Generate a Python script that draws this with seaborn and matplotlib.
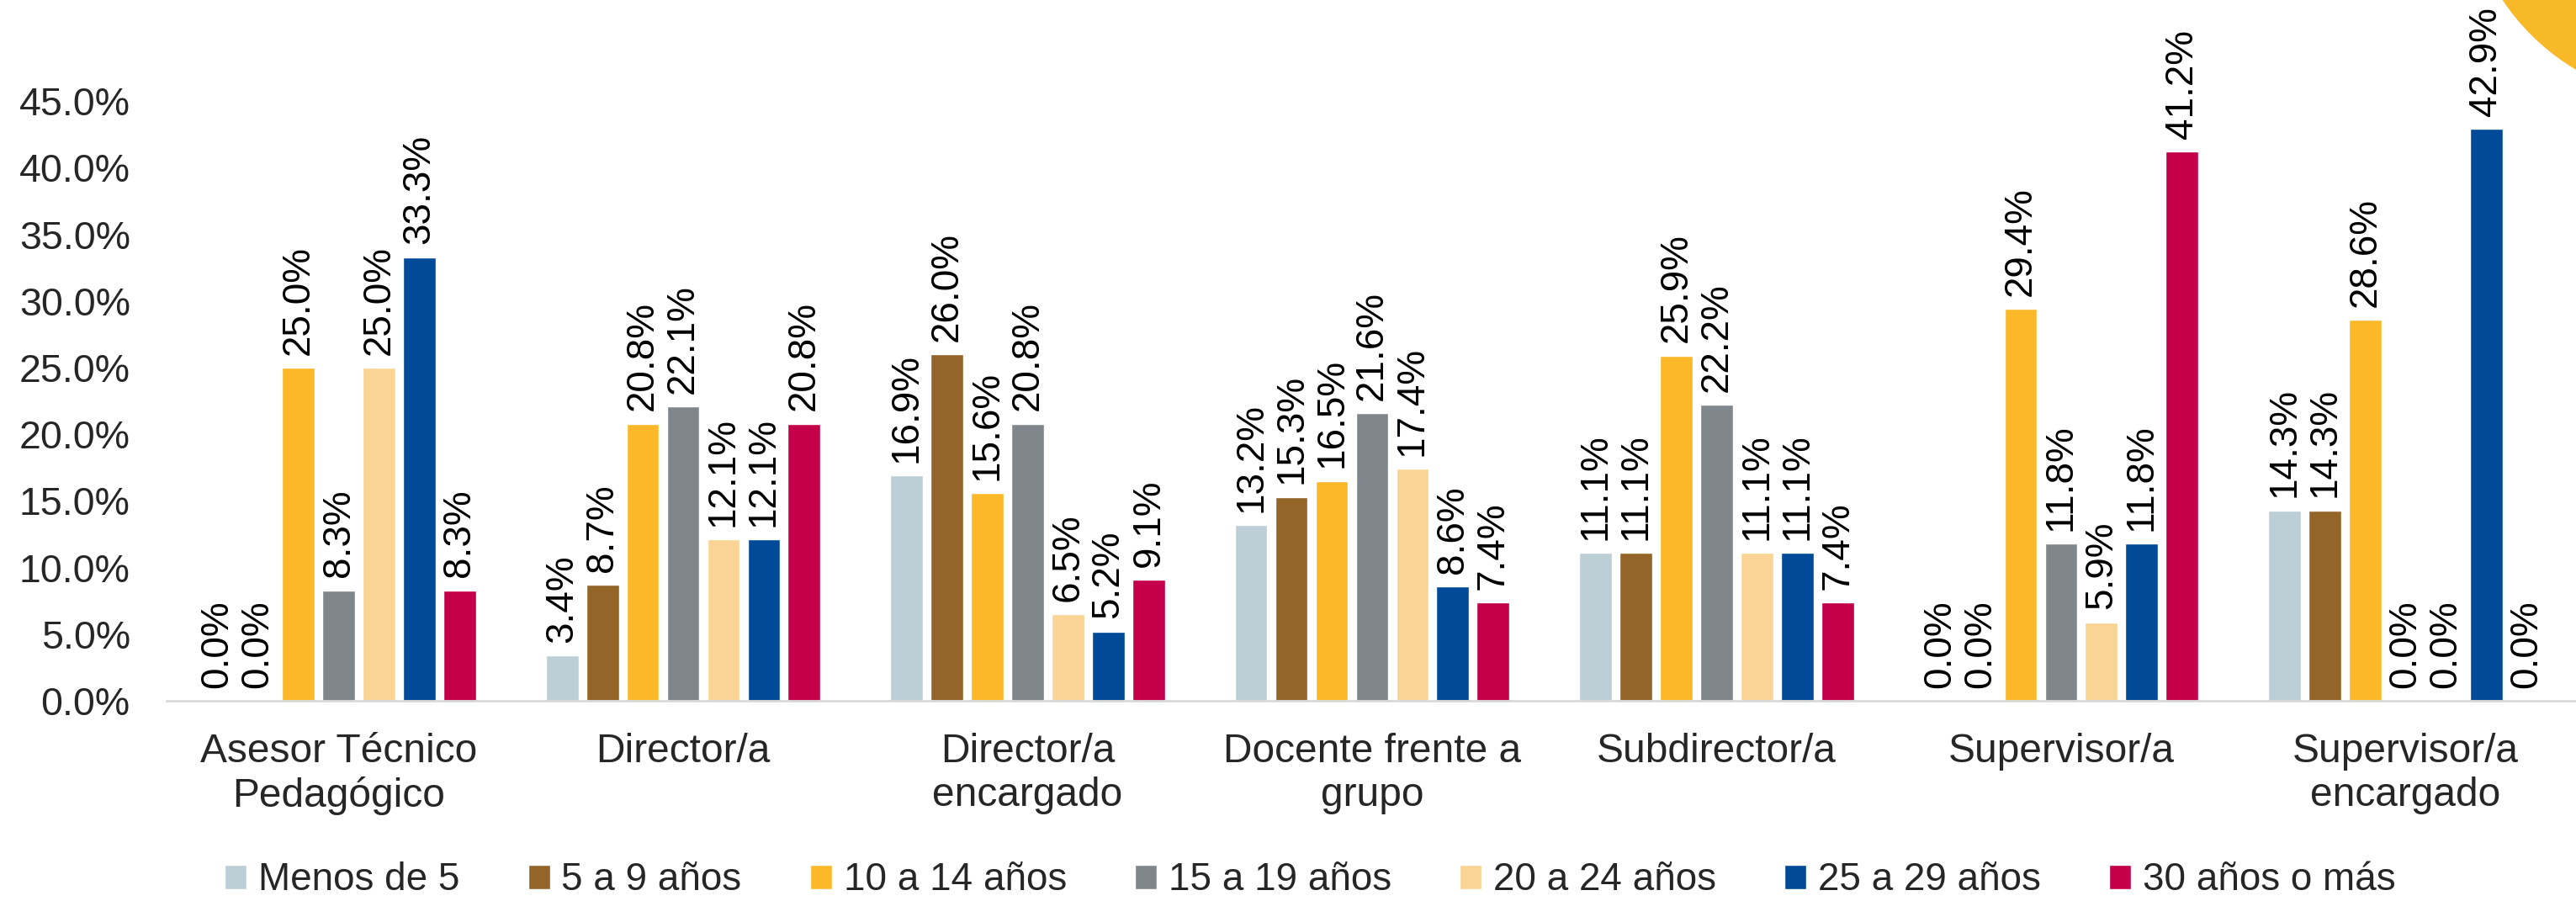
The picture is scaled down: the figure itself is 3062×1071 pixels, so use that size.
import matplotlib
matplotlib.use("Agg")
import matplotlib.pyplot as plt
import matplotlib.patches as mpatches
import seaborn as sns
import pandas as pd

categories = ["Asesor Técnico\nPedagógico", "Director/a", "Director/a\nencargado",
              "Docente frente a\ngrupo", "Subdirector/a", "Supervisor/a",
              "Supervisor/a\nencargado"]
series_names = ["Menos de 5", "5 a 9 años", "10 a 14 años", "15 a 19 años",
                "20 a 24 años", "25 a 29 años", "30 años o más"]
menos_5 = [0.0, 3.4, 16.9, 13.2, 11.1, 0.0, 14.3]
a5_9 = [0.0, 8.7, 26.0, 15.3, 11.1, 0.0, 14.3]
a10_14 = [25.0, 20.8, 15.6, 16.5, 25.9, 29.4, 28.6]
a15_19 = [8.3, 22.1, 20.8, 21.6, 22.2, 11.8, 0.0]
a20_24 = [25.0, 12.1, 6.5, 17.4, 11.1, 5.9, 0.0]
a25_29 = [33.3, 12.1, 5.2, 8.6, 11.1, 11.8, 42.9]
a30_mas = [8.3, 20.8, 9.1, 7.4, 7.4, 41.2, 0.0]
yticks = [0, 5, 10, 15, 20, 25, 30, 35, 40, 45]

colors = ["#BCCFD6", "#936529", "#FBB92A", "#7F878D", "#F9D494", "#004A97", "#C5004A"]

series_values = [menos_5, a5_9, a10_14, a15_19, a20_24, a25_29, a30_mas]
rows = []
for name, vals in zip(series_names, series_values):
    for cat, v in zip(categories, vals):
        rows.append({"cat": cat, "serie": name, "val": v})
df = pd.DataFrame(rows)

sns.set_theme(style="white")
plt.rcParams['font.family'] = ['Liberation Sans', 'DejaVu Sans']
FS_TICK = 33.5
FS_DATA = 33
FS_CAT = 34.5
FS_LEG = 33

fig = plt.figure(figsize=(30.62, 10.71), dpi=100)

circ = mpatches.Circle((32.0, 12.21), 2.7, transform=fig.dpi_scale_trans,
                       color="#F7B928", zorder=-1)
fig.add_artist(circ)

ax = fig.add_axes([0.0646, 0.2222, 0.9361, 0.7395])
ax.set_facecolor("none")

sns.barplot(data=df, x="cat", y="val", hue="serie", order=categories,
            hue_order=series_names, palette=colors, width=0.82, gap=0.19,
            saturation=1, ax=ax, errorbar=None, legend=True)

for cont in ax.containers:
    labels = [f"{b.get_height():.1f}%" for b in cont]
    ax.bar_label(cont, labels=labels, rotation=90, padding=11, fontsize=FS_DATA,
                 color="black", clip_on=False)

ax.set_ylim(0, 50)
ax.set_yticks(yticks)
ax.set_yticklabels([f"{t:.1f}%" for t in yticks], fontsize=FS_TICK)
ax.set_xlim(-0.5, len(categories) - 0.5)
ax.set_xlabel("")
ax.set_ylabel("")
ax.tick_params(axis="x", labelsize=FS_CAT, length=0, pad=27)
ax.tick_params(axis="y", length=0, pad=31)
for lbl in ax.get_xticklabels():
    lbl.set_linespacing(1.22)
for s in ["top", "right", "left"]:
    ax.spines[s].set_visible(False)
ax.spines["bottom"].set_color("#D9D9D9")
ax.spines["bottom"].set_linewidth(2)
ax.grid(False)

handles, lbls = ax.get_legend_handles_labels()
ax.get_legend().remove()
fig.legend(handles, lbls, loc="center", bbox_to_anchor=(0.5086, 0.023), ncol=7,
           frameon=False, fontsize=FS_LEG, handlelength=0.57, handleheight=0.59,
           handletextpad=0.3, columnspacing=1.77)

fig.savefig("out.png", dpi=100)
